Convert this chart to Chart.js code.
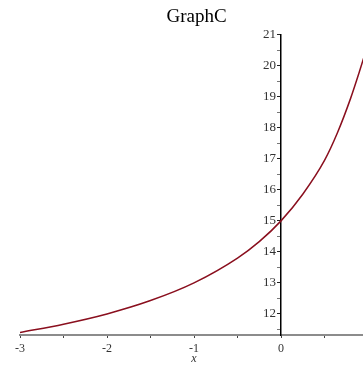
<!DOCTYPE html>
<html>
<head>
<meta charset="utf-8">
<script src="https://cdn.jsdelivr.net/npm/chart.js@4/dist/chart.umd.min.js"></script>
<style>
  html, body { margin: 0; padding: 0; background: #fff; overflow: hidden; }
  #wrap { width: 363px; height: 366px; overflow: hidden; }
</style>
</head>
<body>
<div id="wrap"><canvas id="graphC" width="376" height="372"></canvas></div>
<script>
// curve
const xValues = [-3, -2.5, -2, -1.5, -1, -0.5, -0.25, 0, 0.25, 0.5, 0.65, 0.8, 0.9, 1]
const yValues = [11.40, 11.67, 12.0, 12.43, 13.0, 13.8, 14.33, 15.0, 15.86, 16.95, 17.85, 18.95, 19.8, 20.7]

const xTicks = [-3, -2.5, -2, -1.5, -1, -0.5, 0, 0.5, 1]
const yTicks = [11.5, 12, 12.5, 13, 13.5, 14, 14.5, 15, 15.5, 16, 16.5, 17, 17.5, 18, 18.5, 19, 19.5, 20, 20.5, 21]
const yLabels = [12, 13, 14, 15, 16, 17, 18, 19, 20, 21]

const serif = 'Liberation Serif'
const lineColor = '#8a0f1e'

// the y axis sits at x = 0 inside the plot, so its numbers are drawn here
const yLabelPlugin = {
  id: 'yLabels',
  afterDraw(chart) {
    const { ctx, scales } = chart
    const x0 = scales.x.getPixelForValue(0)
    ctx.save()
    ctx.font = '13px "' + serif + '"'
    ctx.fillStyle = '#333'
    ctx.textAlign = 'right'
    ctx.textBaseline = 'middle'
    yLabels.forEach(v => ctx.fillText(String(v), x0 - 5, scales.y.getPixelForValue(v)))
    ctx.restore()
  }
}

new Chart(document.getElementById('graphC'), {
  type: 'line',
  data: {
    datasets: [
      {
        data: xValues.map((x, i) => ({ x: x, y: yValues[i] })),
        borderColor: lineColor,
        borderWidth: 1.5,
        pointRadius: 0,
        cubicInterpolationMode: 'monotone',
        fill: false
      }
    ]
  },
  options: {
    responsive: false,
    animation: false,
    layout: { padding: { left: 20, right: 3, top: 0, bottom: 0 } },
    plugins: {
      legend: { display: false },
      tooltip: { enabled: false },
      title: {
        display: true,
        text: 'GraphC',
        color: '#000',
        font: { family: serif, size: 19, weight: 'normal', lineHeight: 1.2 },
        padding: { top: 6, bottom: 6 }
      }
    },
    scales: {
      x: {
        type: 'linear',
        min: -3,
        max: 1,
        afterBuildTicks: scale => { scale.ticks = xTicks.map(v => ({ value: v })) },
        border: { color: '#8c8c8c', width: 2 },
        grid: { drawOnChartArea: false, tickLength: 3, tickColor: '#444' },
        ticks: {
          color: '#333',
          padding: 5,
          maxRotation: 0,
          font: { family: serif, size: 12, lineHeight: 1 },
          callback: v => Number.isInteger(v) ? String(v) : ''
        },
        title: {
          display: true,
          text: 'x',
          color: '#333',
          padding: { top: -7, bottom: 7 },
          font: { family: serif, size: 12, style: 'italic', lineHeight: 1 }
        }
      },
      y: {
        type: 'linear',
        min: 11.32,
        max: 21,
        position: { x: 0 },
        afterBuildTicks: scale => { scale.ticks = yTicks.map(v => ({ value: v })) },
        border: { color: '#000', width: 1.5 },
        grid: {
          drawOnChartArea: false,
          tickLength: 3,
          tickColor: ctx => Number.isInteger(ctx.tick.value) ? '#222' : '#777'
        },
        ticks: { display: false }
      }
    }
  },
  plugins: [yLabelPlugin]
})
</script>
</body>
</html>
